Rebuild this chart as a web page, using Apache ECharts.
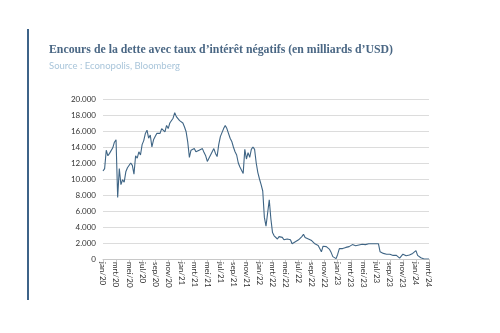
<!DOCTYPE html>
<html><head><meta charset="utf-8">
<script src="https://cdn.jsdelivr.net/npm/echarts@6/dist/echarts.min.js"></script>
<style>html,body{margin:0;padding:0;background:#fff}#c{width:500px;height:333px}</style>
</head><body><div id="c"></div>
<script>
// Tick labels every two months
const tickLabels = ['jan/20','mrt/20','mei/20','jul/20','sep/20','nov/20','jan/21','mrt/21','mei/21','jul/21','sep/21','nov/21','jan/22','mrt/22','mei/22','jul/22','sep/22','nov/22','jan/23','mrt/23','mei/23','jul/23','sep/23','nov/23','jan/24','mrt/24'];
// Quarter-month observations (4 per month), jan/20 .. mrt/24, in billions USD
const values2020 = [11000,11300,13600,12900, 13200,13000,13900,14600, 14900,7700,11300,9300, 9900,9600,10900,11400, 11200,12000,11700,10600, 12900,12600,13400,13000, 14300,14800,15700,16100, 15100,15500,14000,14900, 15300,15700,15500,15700, 16300,16500,15900,16700, 16300,17000,16800,17600, 18300,17800,17600,17300];
const values2021 = [17100,17000,16500,15900, 14600,12700,13600,13500, 13800,13400,13200,13600, 13400,13800,13300,12900, 12200,12600,13000,12800, 13800,13200,12800,14300, 15300,15800,16300,16700, 16300,16100,15100,14700, 14000,13400,13000,12000, 11500,11300,10700,13700, 12500,13300,12700,13700, 14000,13700,12000,10800];
const values2022 = [10000,9300,8500,5200, 4100,4000,7400,5000, 3300,2900,2700,2500, 2800,2600,2700,2400, 2600,2500,2400,2400, 1900,1800,2150,2200, 2400,2500,2800,3100, 2700,2600,2500,2400, 2300,2100,1900,1950, 1700,1550,900,1600, 1800,1550,1500,1200, 800,300,100,50];
const values2023 = [600,1300,1400,1300, 1400,1450,1500,1550, 1600,1800,1700,1650, 1700,1750,1800,1850, 1850,1800,1850,1900, 1950,1900,1950,1900, 1700,1900,900,750, 700,650,600,550, 600,500,450,500, 450,300,100,300, 600,450,400,550, 500,600,700,900];
const values2024 = [1050,450,250,150, 50,0,0,0, 0];

const values = values2020.concat(values2021, values2022, values2023, values2024);
const categories = values.map((v, i) => String(i));

const chart = echarts.init(document.getElementById('c'), null, {renderer: 'canvas'});
chart.setOption({
  animation: false,
  backgroundColor: '#ffffff',
  graphic: [
    {type: 'rect', left: 27, top: 29, shape: {width: 2, height: 271}, style: {fill: '#3d6388'}},
    {type: 'text', left: 49, top: 44, style: {text: 'Encours de la dette avec taux d\u2019intérêt négatifs (en milliards d\u2019USD)', font: '600 11.8px "Liberation Serif", serif', fill: '#4a6784'}},
    {type: 'text', left: 49, top: 61, style: {text: 'Source : Econopolis, Bloomberg', font: '9.5px Lato, "Open Sans", sans-serif', fill: '#a9c5da'}}
  ],
  grid: {left: 103, right: 71, top: 99, bottom: 74},
  xAxis: {
    type: 'category',
    data: categories,
    boundaryGap: false,
    axisLine: {lineStyle: {color: '#c8c8c8', width: 1}},
    axisTick: {interval: 7, length: 3, lineStyle: {color: '#c8c8c8'}},
    axisLabel: {
      interval: 7, rotate: -90, margin: 3, fontSize: 8, color: '#333',
      fontFamily: 'Lato, "Open Sans", sans-serif',
      formatter: (v, i) => tickLabels[Math.round(i / 8)] || ''
    },
    splitLine: {show: false}
  },
  yAxis: {
    type: 'value', min: 0, max: 20000, interval: 2000,
    axisLine: {show: false}, axisTick: {show: false},
    axisLabel: {
      margin: 7, fontSize: 8, color: '#333', fontFamily: 'Lato, "Open Sans", sans-serif',
      formatter: v => v === 0 ? '0' : (v / 1000) + '.000'
    },
    splitLine: {lineStyle: {color: '#dcdcdc', width: 1}}
  },
  series: [{
    type: 'line', data: values, showSymbol: false, symbol: 'none',
    lineStyle: {color: '#3f6585', width: 1.1}
  }]
});
</script></body></html>
